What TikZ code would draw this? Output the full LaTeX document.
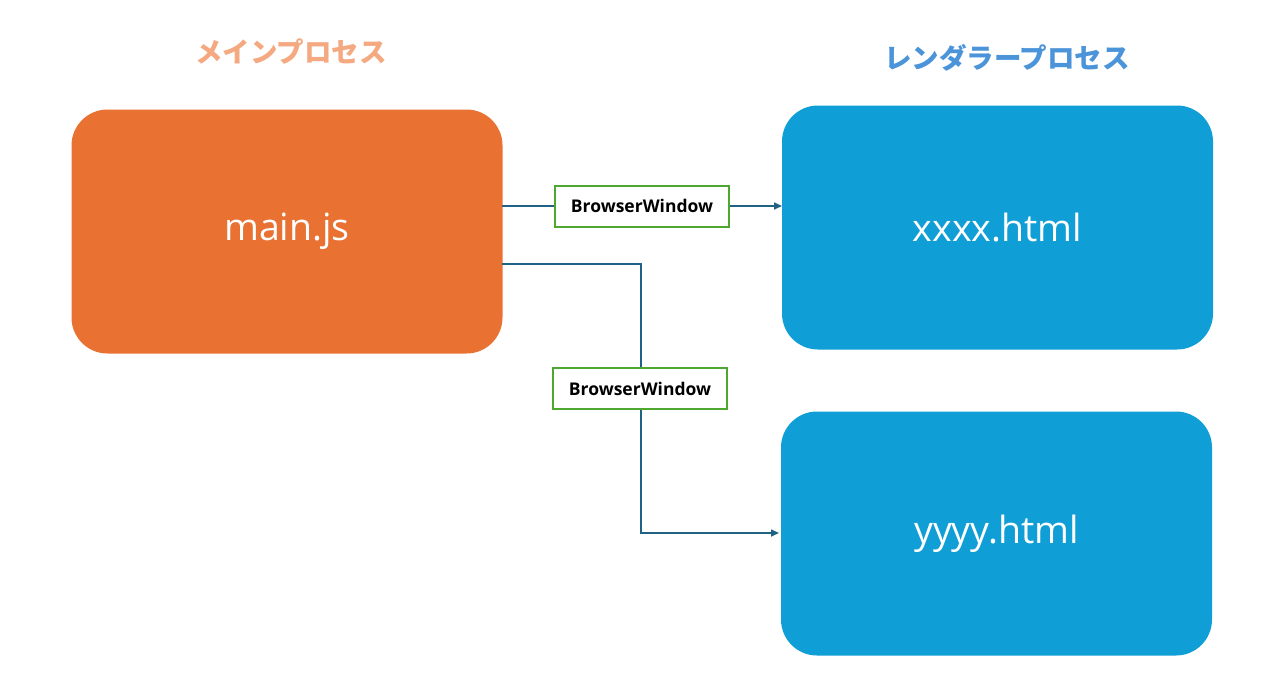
\documentclass[tikz,border=0pt]{standalone}
\usepackage{fontspec}
\setmainfont{Open Sans}
\newfontfamily\cjk{Noto Sans CJK JP}
\usetikzlibrary{arrows.meta}
\definecolor{orangebox}{HTML}{E97132}
\definecolor{bluebox}{HTML}{0F9ED5}
\definecolor{linec}{HTML}{1F6283}
\definecolor{greenb}{HTML}{4EA72E}
\definecolor{titleor}{HTML}{F4A981}
\definecolor{titlebl}{HTML}{4C94DA}
\tikzset{
  proc/.style={rounded corners=36pt, minimum width=431pt, minimum height=244pt, inner sep=0pt, text=white, font=\fontsize{37.5}{40}\selectfont},
  lbl/.style={draw=greenb, line width=2pt, fill=white, minimum width=174pt, minimum height=41pt, inner sep=0pt, font=\bfseries\fontsize{17.5}{19}\selectfont},
  conn/.style={draw=linec, line width=1.6pt, -{Triangle[length=8pt,width=7pt]}},
  plain/.style={draw=linec, line width=1.6pt},
  ttl/.style={font=\cjk\bfseries\fontsize{27.5}{30}\selectfont, inner sep=0pt}
}
\begin{document}
\begin{tikzpicture}[x=1pt,y=-1pt]
\useasboundingbox (0,0) rectangle (1277,689);
\node[proc, fill=orangebox] (main) at (287,231.5) {main.js};
\node[proc, fill=bluebox] (x) at (997.5,227.5) {xxxx.html};
\node[proc, fill=bluebox] (y) at (996.5,533.5) {yyyy.html};
\node[ttl, text=titleor] (t1) at (291,52) {メインプロセス};
\node[ttl, text=titlebl] (t2) at (1007,58) {レンダラープロセス};
\node[lbl] (l1) at (642,206) {BrowserWindow};
\node[lbl] (l2) at (640,388.5) {BrowserWindow};
\coordinate (a1) at (502,206);
\coordinate (b1) at (782,206);
\draw[plain] (a1) -- (l1.west);
\draw[conn] (l1.east) -- (b1);
\coordinate (a2) at (502,264);
\coordinate (c2) at (641,264);
\coordinate (d2) at (641,533);
\coordinate (e2) at (779,533);
\draw[plain] (a2) -- (c2) -- (c2 |- l2.north);
\draw[conn] (d2 |- l2.south) -- (d2) -- (e2);
\end{tikzpicture}
\end{document}
